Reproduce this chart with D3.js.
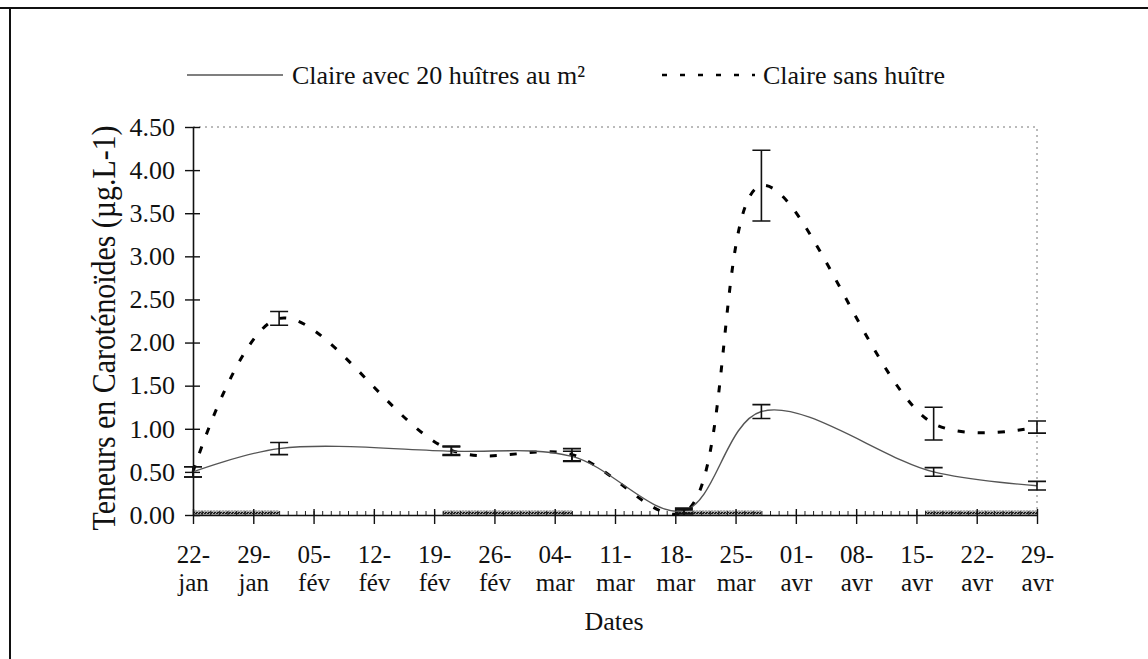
<!DOCTYPE html>
<html><head><meta charset="utf-8">
<script src="https://cdn.jsdelivr.net/npm/d3@7"></script>
<style>
body{margin:0;background:#fff}
svg{display:block}
svg text{font-family:"Liberation Serif","DejaVu Serif",serif !important;fill:#111}
</style>
</head><body>
<svg id="c" width="1148" height="659" font-family="Liberation Serif, DejaVu Serif, serif"></svg>
<script>
// ---- data ----
const sampleDates = ["2004-01-22","2004-02-01","2004-02-21","2004-03-06","2004-03-19","2004-03-28","2004-04-17","2004-04-29"];
const avecValues = [0.50, 0.77, 0.74, 0.68, 0.05, 1.20, 0.50, 0.34];
const avecErrors = [0.06, 0.07, 0.05, 0.06, 0.03, 0.08, 0.05, 0.05];
const sansValues = [0.50, 2.28, 0.75, 0.70, 0.03, 3.82, 1.06, 1.02];
const sansErrors = [0.06, 0.08, 0.05, 0.07, 0.03, 0.41, 0.19, 0.07];
const seriesNames = ["Claire avec 20 huîtres au m²", "Claire sans huître"];
const tickDates = ["2004-01-22","2004-01-29","2004-02-05","2004-02-12","2004-02-19","2004-02-26","2004-03-04","2004-03-11","2004-03-18","2004-03-25","2004-04-01","2004-04-08","2004-04-15","2004-04-22","2004-04-29"];
const tickDayLabels = ["22-","29-","05-","12-","19-","26-","04-","11-","18-","25-","01-","08-","15-","22-","29-"];
const tickMonthLabels = ["jan","jan","fév","fév","fév","fév","mar","mar","mar","mar","avr","avr","avr","avr","avr"];
const yTicks = [0, 0.5, 1, 1.5, 2, 2.5, 3, 3.5, 4, 4.5];
const bandStarts = ["2004-01-22","2004-02-20","2004-03-18","2004-04-16"];
const bandEnds   = ["2004-02-01","2004-03-06","2004-03-28","2004-04-29"];
const xTitle = "Dates";
const yTitle = "Teneurs en Caroténoïdes (µg.L-1)";

// ---- drawing ----
const FONT = "Liberation Serif, DejaVu Serif, serif";
const parse = d3.utcParse("%Y-%m-%d");
const svg = d3.select("#c");
const x = d3.scaleUtc().domain([parse(tickDates[0]), parse(tickDates[tickDates.length-1])]).range([193, 1037]);
const y = d3.scaleLinear().domain([0, 4.5]).range([515, 127]);

// frame
svg.append("line").attr("x1",0).attr("x2",1148).attr("y1",8).attr("y2",8).attr("stroke","#111").attr("stroke-width",2);
svg.append("line").attr("x1",10).attr("x2",10).attr("y1",8).attr("y2",659).attr("stroke","#111").attr("stroke-width",2);

// plot area dotted border (top, right)
svg.append("path").attr("d",`M${x.range()[0]},${y(4.5)}H${x.range()[1]}V${y(0)}`)
  .attr("fill","none").attr("stroke","#777").attr("stroke-width",1).attr("stroke-dasharray","2,4");

// bands near zero
const defs = svg.append("defs");
const pat = defs.append("pattern").attr("id","hatch").attr("width",3).attr("height",3).attr("patternUnits","userSpaceOnUse");
pat.append("rect").attr("width",3).attr("height",3).attr("fill","#aaa");
pat.append("rect").attr("width",2).attr("height",1).attr("fill","#222");
pat.append("rect").attr("x",1).attr("y",2).attr("width",2).attr("height",1).attr("fill","#222");
svg.append("g").selectAll("rect").data(bandStarts.map((s,i)=>[parse(s),parse(bandEnds[i])]))
  .join("rect").attr("x",d=>x(d[0])).attr("width",d=>x(d[1])-x(d[0]))
  .attr("y",y(0.05)).attr("height",y(0)-y(0.05)).attr("fill","url(#hatch)");

// minor x ticks (daily)
const xMinor = d3.axisBottom(x).tickValues(d3.utcDay.range(parse(tickDates[0]), d3.utcDay.offset(parse(tickDates[tickDates.length-1]),1)))
  .tickSize(-4).tickSizeOuter(0).tickFormat("");
svg.append("g").attr("transform",`translate(0,${y(0)})`).call(xMinor)
  .call(g=>g.select(".domain").remove()).selectAll("line").attr("stroke","#222");

// x axis
const xAxis = d3.axisBottom(x).tickValues(tickDates.map(parse)).tickSizeOuter(0).tickFormat("");
const gx = svg.append("g").attr("transform",`translate(0,${y(0)})`).call(xAxis).attr("font-family",FONT);
gx.select(".domain").attr("stroke","#111").attr("stroke-width",1.6);
gx.selectAll(".tick line").attr("y1",-6).attr("y2",9).attr("stroke","#111").attr("stroke-width",1.4);
gx.selectAll(".tick").append("text").attr("text-anchor","middle").attr("font-size",25).attr("font-family",FONT)
  .each(function(d,i){
    const t = d3.select(this);
    t.append("tspan").attr("x",0).attr("y",48).text(tickDayLabels[i]);
    t.append("tspan").attr("x",0).attr("y",76).text(tickMonthLabels[i]);
  });

// y axis
const yAxis = d3.axisLeft(y).tickValues(yTicks).tickFormat(d3.format(".2f")).tickSize(8).tickPadding(10).tickSizeOuter(0);
const gy = svg.append("g").attr("transform",`translate(${x.range()[0]},0)`).call(yAxis).attr("font-family",FONT);
gy.select(".domain").attr("stroke","#111").attr("stroke-width",1.6);
gy.selectAll(".tick line").attr("x1",-8).attr("x2",7).attr("stroke","#111").attr("stroke-width",1.4);
gy.selectAll(".tick text").attr("font-size",26).attr("font-family",FONT).attr("fill","#111");

// titles
svg.append("text").attr("x",614).attr("y",630).attr("text-anchor","middle").attr("font-size",26).attr("font-family",FONT).text(xTitle);
svg.append("text").attr("transform","translate(115,328) rotate(-90)").attr("text-anchor","middle").attr("font-family",FONT)
  .attr("font-size",33).attr("textLength",405).attr("lengthAdjust","spacingAndGlyphs").text(yTitle);

// series
const dates = sampleDates.map(parse);
const line = d3.line().x(d=>x(d[0])).y(d=>y(d[1])).curve(d3.curveCatmullRom.alpha(0.5));
const avec = dates.map((d,i)=>[d,avecValues[i],avecErrors[i]]);
const sans = dates.map((d,i)=>[d,sansValues[i],sansErrors[i]]);

svg.append("path").datum(sans).attr("d",line).attr("fill","none").attr("stroke","#000")
  .attr("stroke-width",3).attr("stroke-dasharray","7,13");
svg.append("path").datum(avec).attr("d",line).attr("fill","none").attr("stroke","#555").attr("stroke-width",1.4);

function errorBars(data){
  const g = svg.append("g").attr("stroke","#111").attr("stroke-width",1.6);
  g.selectAll("path").data(data).join("path")
    .attr("d",d=>{const cx=x(d[0]), y1=y(d[1]-d[2]), y2=y(d[1]+d[2]);
      return `M${cx-9},${y1}H${cx+9}M${cx},${y1}V${y2}M${cx-9},${y2}H${cx+9}`;});
}
errorBars(sans);
errorBars(avec);

// legend
svg.append("line").attr("x1",187).attr("x2",283).attr("y1",75).attr("y2",75).attr("stroke","#555").attr("stroke-width",1.4);
svg.append("text").attr("x",292).attr("y",84).attr("font-size",26).attr("font-family",FONT).text(seriesNames[0]);
svg.append("line").attr("x1",662).attr("x2",755).attr("y1",75).attr("y2",75).attr("stroke","#000").attr("stroke-width",2.5).attr("stroke-dasharray","5,13");
svg.append("text").attr("x",763).attr("y",84).attr("font-size",26).attr("font-family",FONT).text(seriesNames[1]);
</script>
</body></html>
